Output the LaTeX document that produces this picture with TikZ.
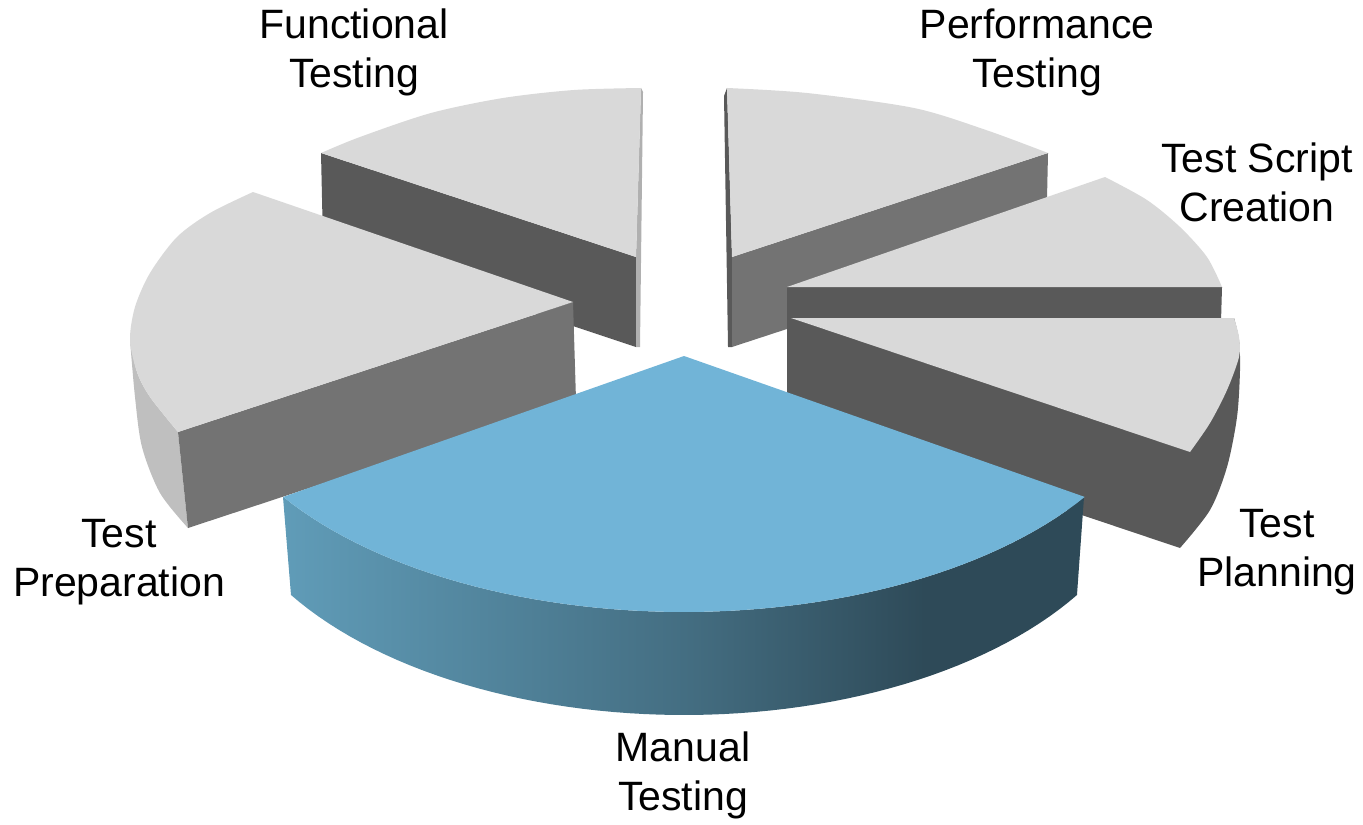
\documentclass[tikz,border=0pt]{standalone}
\usepackage{fontspec}
\setmainfont{Liberation Sans}
\definecolor{topg}{HTML}{D9D9D9}
\definecolor{darkg}{HTML}{595959}
\definecolor{midg}{HTML}{737373}
\definecolor{sideg}{HTML}{BFBFBF}
\definecolor{sliverg}{HTML}{B0B0B0}
\definecolor{mttop}{RGB}{113,180,215}
\definecolor{mtL}{RGB}{96,156,184}
\definecolor{mtM}{RGB}{68,110,130}
\definecolor{mtD}{RGB}{46,74,88}
\pgfdeclarehorizontalshading{mtside}{100bp}{color(0bp)=(mtL); color(25bp)=(mtL); color(50bp)=(mtM); color(65bp)=(mtD); color(100bp)=(mtD)}
\tikzset{
  lbl/.style={align=center, text=black, inner sep=0pt, font=\fontsize{20.5}{24.5}\selectfont},
  topface/.style={fill=topg},
  darkface/.style={fill=darkg},
  midface/.style={fill=midg},
}
\begin{document}
\begin{tikzpicture}[x=0.5pt,y=-0.5pt]
\useasboundingbox (0,0) rectangle (1363,824);
% Functional Testing
\fill[darkface] (321,153) -- (636,257) -- (636,347) -- (323,243) -- cycle;
\fill[fill=sliverg] (641,88) -- (636,257) -- (636,347) -- (640,347) -- (643,92) -- cycle;
\fill[topface] (636,257) -- (321,153) -- plot[smooth] coordinates {(321,153) (360,137) (431,113) (503,98) (574,90) (641,88)} -- cycle;
% Performance Testing
\fill[darkface] (727,88) -- (732,257) -- (732,347) -- (728,347) -- (724,96) -- cycle;
\fill[midface] (732,257) -- (1048,153) -- (1046,244) -- (732,347) -- cycle;
\fill[topface] (732,257) -- (727,88) -- plot[smooth] coordinates {(727,88) (807,93) (914,108) (986,130) (1048,153)} -- cycle;
% Test Script Creation
\fill[darkface] (787,287) -- (1222,287) -- (1219,390) -- (787,390) -- cycle;
\fill[topface] (787,287) -- (1105,177) -- plot[smooth] coordinates {(1105,177) (1147,200) (1180,227) (1207,257) (1222,287)} -- cycle;
% Test Planning
\fill[darkface] (787,318) -- (1234,318) -- plot[smooth] coordinates {(1234,318) (1239,340) (1240,370) (1237,417) (1227,467) (1210,510) (1180,548)} -- (787,416) -- cycle;
\fill[topface] (791,318) -- (1234,318) -- plot[smooth] coordinates {(1234,318) (1239,337) (1239,357) (1227,390) (1210,423) (1190,452)} -- cycle;
% Test Preparation
\fill[fill=sideg] plot[smooth] coordinates {(130,340) (137,372) (150,397) (178,432)} -- (188,528) -- plot[smooth] coordinates {(188,528) (160,493) (142,447) (135,397) (130,340)} -- cycle;
\fill[midface] (178,432) -- (573,302) -- (576,400) -- (188,528) -- cycle;
\fill[topface] (573,302) -- (253,192) -- plot[smooth] coordinates {(253,192) (210,213) (177,237) (150,273) (135,307) (130,340) (137,372) (150,397) (178,432)} -- cycle;
% Manual Testing
\shade[shading=mtside] (283,497) -- (291,595) -- plot[domain=32.7:147.3, samples=60, variable=\t] ({684-467*cos(\t)},{454+261*sin(\t)}) -- (1084,497) -- plot[domain=33.4:146.6, samples=60, variable=\t] ({684+480*cos(\t)},{356+256*sin(\t)}) -- cycle;
\fill[fill=mttop] (684,356) -- plot[domain=33.4:146.6, samples=60, variable=\t] ({684+480*cos(\t)},{356+256*sin(\t)}) -- cycle;
% Labels
\node[lbl] (ft) at (354,52) {Functional\\Testing};
\node[lbl] (pt) at (1037,52) {Performance\\Testing};
\node[lbl] (tsc) at (1257,182) {Test Script\\Creation};
\node[lbl] (tpl) at (1277,552) {Test\\Planning};
\node[lbl] (tpr) at (119,562) {Test\\Preparation};
\node[lbl] (mt) at (683,775) {Manual\\Testing};
\end{tikzpicture}
\end{document}
